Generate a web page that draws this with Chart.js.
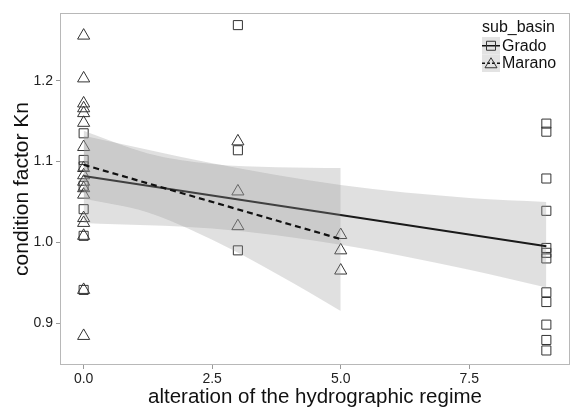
<!DOCTYPE html>
<html>
<head>
<meta charset="utf-8">
<script src="https://cdn.jsdelivr.net/npm/chart.js@4.4.0/dist/chart.umd.min.js"></script>
<style>
  body { margin: 0; background: #fff; }
  #wrap { width: 571px; height: 407px; }
</style>
</head>
<body>
<div id="wrap"><canvas id="chart" width="571" height="407"></canvas></div>
<script>
const basins = ['Grado', 'Marano'];

// observed points (x = alteration, y = Kn)
const gradoX  = [0, 0, 0, 0, 0, 0, 0,  3, 3, 3,  9, 9, 9, 9, 9, 9, 9, 9, 9, 9, 9, 9];
const gradoKn = [1.135, 1.102, 1.094, 1.070, 1.041, 1.008, 0.941,
                 1.269, 1.114, 0.990,
                 1.147, 1.137, 1.079, 1.039, 0.993, 0.987, 0.980, 0.938, 0.926, 0.898, 0.879, 0.866];
const maranoX  = [0, 0, 0, 0, 0, 0, 0, 0, 0, 0, 0, 0, 0, 0, 0, 0, 0,  3, 3, 3,  5, 5, 5];
const maranoKn = [1.256, 1.203, 1.172, 1.166, 1.160, 1.148, 1.118, 1.092, 1.083, 1.075, 1.067, 1.059,
                  1.030, 1.024, 1.008, 0.941, 0.884,
                  1.125, 1.063, 1.020,
                  1.009, 0.990, 0.965];

// fitted lines
const gradoFitX  = [0, 9];
const gradoFitKn = [1.082, 0.995];
const maranoFitX  = [0, 5];
const maranoFitKn = [1.096, 1.004];

// confidence bands
const gradoBandX  = [0, 2.5, 5, 7.5, 9];
const gradoBandHi = [1.132, 1.098, 1.071, 1.055, 1.050];
const gradoBandLo = [1.024, 1.017, 0.997, 0.966, 0.944];
const maranoBandX  = [0, 1.25, 2.5, 3.75, 5];
const maranoBandHi = [1.138, 1.110, 1.097, 1.093, 1.092];
const maranoBandLo = [1.054, 1.037, 1.003, 0.961, 0.915];

const xTicks = [0, 2.5, 5, 7.5];
const yTicks = [0.9, 1.0, 1.1, 1.2];

const FONT = '"Liberation Sans", Arial, sans-serif';
const bandFill = 'rgba(153,153,153,0.3)';

const toXY = (xs, ys) => xs.map((x, i) => ({ x: x, y: ys[i] }));

const pointSet = (label, xs, ys, style, r) => ({
  label: label,
  data: toXY(xs, ys),
  pointStyle: style,
  pointRadius: r,
  pointHoverRadius: r,
  pointBackgroundColor: 'rgba(0,0,0,0)',
  pointBorderColor: '#333',
  pointBorderWidth: 1,
  showLine: false,
  order: 4
});

const band = (xs, ys, fill, order) => ({
  data: toXY(xs, ys),
  showLine: true,
  borderWidth: 0,
  borderColor: 'rgba(0,0,0,0)',
  backgroundColor: bandFill,
  pointRadius: 0,
  fill: fill,
  cubicInterpolationMode: 'monotone',
  order: order
});

const frame = {
  id: 'frame',
  afterDatasetsDraw(chart) {
    const { ctx, chartArea: a } = chart;
    ctx.save();
    ctx.strokeStyle = '#b8b8b8';
    ctx.lineWidth = 1;
    ctx.strokeRect(Math.round(a.left) + 0.5, Math.round(a.top) + 0.5,
                   Math.round(a.right - a.left) - 1, Math.round(a.bottom - a.top) - 1);
    ctx.restore();
  }
};

const legendBox = {
  id: 'legendBox',
  afterDraw(chart) {
    const ctx = chart.ctx;
    ctx.save();
    ctx.font = '16px ' + FONT;
    ctx.textBaseline = 'middle';
    ctx.textAlign = 'left';
    ctx.fillStyle = '#111';
    ctx.fillText('sub_basin', 482, 28);
    basins.forEach((name, i) => {
      const y = 37 + i * 17.5, cx = 491, cy = y + 8.75;
      ctx.fillStyle = '#e3e3e3';
      ctx.fillRect(482, y, 18, 17.5);
      ctx.strokeStyle = '#111';
      ctx.lineWidth = 1.5;
      ctx.setLineDash(i ? [3, 2] : []);
      ctx.beginPath();
      ctx.moveTo(482, cy); ctx.lineTo(500, cy);
      ctx.stroke();
      ctx.setLineDash([]);
      ctx.strokeStyle = '#333';
      ctx.lineWidth = 1;
      ctx.beginPath();
      if (i === 0) {
        ctx.rect(cx - 4.5, cy - 4.5, 9, 9);
      } else {
        ctx.moveTo(cx - 6, cy + 4.5); ctx.lineTo(cx, cy - 5.5); ctx.lineTo(cx + 6, cy + 4.5); ctx.closePath();
      }
      ctx.stroke();
      ctx.fillStyle = '#111';
      ctx.fillText(name, 502, cy + 0.5);
    });
    ctx.restore();
  }
};

new Chart(document.getElementById('chart'), {
  type: 'scatter',
  data: {
    datasets: [
      { data: toXY(maranoFitX, maranoFitKn), showLine: true, borderColor: '#111', borderWidth: 2.2,
        borderDash: [6, 4], pointRadius: 0, fill: false, order: 0 },
      band(maranoBandX, maranoBandHi, '+1', 1),
      band(maranoBandX, maranoBandLo, false, 1),
      { data: toXY(gradoFitX, gradoFitKn), showLine: true, borderColor: '#1a1a1a', borderWidth: 2,
        pointRadius: 0, fill: false, order: 2 },
      band(gradoBandX, gradoBandHi, '+1', 3),
      band(gradoBandX, gradoBandLo, false, 3),
      pointSet(basins[0], gradoX, gradoKn, 'rect', 6.4),
      pointSet(basins[1], maranoX, maranoKn, 'triangle', 7)
    ]
  },
  options: {
    responsive: false,
    animation: false,
    layout: { autoPadding: false, padding: { top: 13, right: 1, left: 0, bottom: 0 } },
    plugins: { legend: { display: false }, tooltip: { enabled: false } },
    scales: {
      x: {
        type: 'linear',
        min: -0.46,
        max: 9.46,
        afterBuildTicks: s => { s.ticks = xTicks.map(v => ({ value: v })); },
        afterFit: s => { s.height = 42; },
        ticks: { callback: v => Number(v).toFixed(1), color: '#222', font: { size: 14, family: FONT },
                 padding: 2, maxRotation: 0, autoSkip: false },
        grid: { drawOnChartArea: false, drawTicks: true, tickLength: 4, tickColor: '#999' },
        border: { display: false },
        title: { display: true, text: 'alteration of the hydrographic regime', color: '#111',
                 font: { size: 20.5, family: FONT, lineHeight: 1 }, padding: { top: 0, bottom: -0.5 } }
      },
      y: {
        min: 0.848,
        max: 1.284,
        afterBuildTicks: s => { s.ticks = yTicks.map(v => ({ value: v })); },
        afterFit: s => { s.width = 60; },
        ticks: { callback: v => Number(v).toFixed(1), color: '#222', font: { size: 14, family: FONT },
                 padding: 3 },
        grid: { drawOnChartArea: false, drawTicks: true, tickLength: 4, tickColor: '#999' },
        border: { display: false },
        title: { display: true, text: 'condition factor Kn', color: '#111',
                 font: { size: 21, family: FONT, lineHeight: 1 }, padding: { top: 12, bottom: 0 } }
      }
    }
  },
  plugins: [frame, legendBox]
});
</script>
</body>
</html>
